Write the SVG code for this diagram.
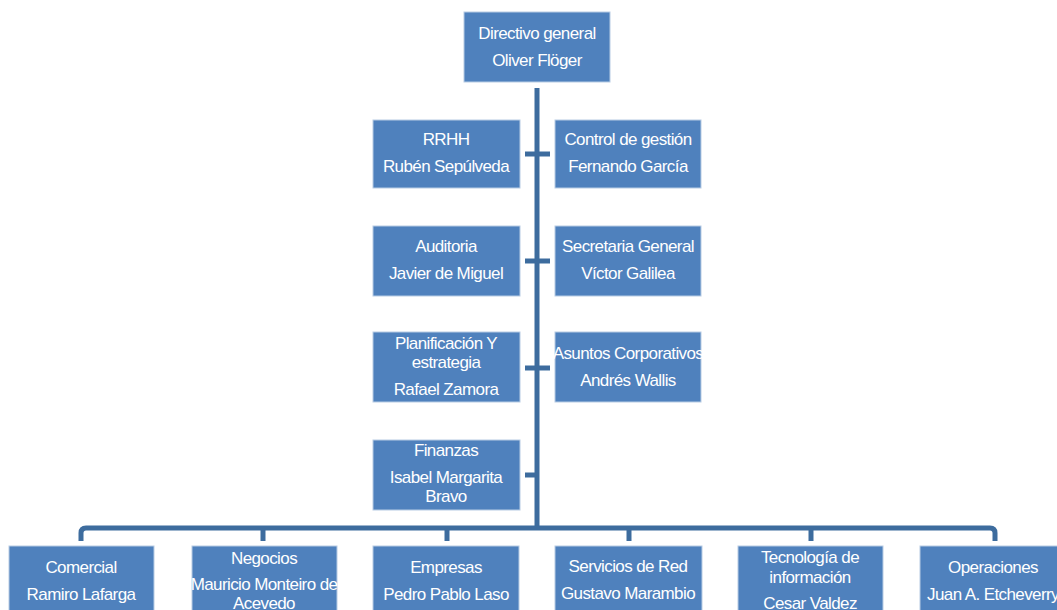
<svg xmlns="http://www.w3.org/2000/svg" width="1057" height="610" viewBox="0 0 1057 610">
<style>
.box{fill:#4F81BD;stroke:#B8CCE4;stroke-width:1}
.t{font-family:"Liberation Sans",Arial,sans-serif;font-size:17px;letter-spacing:-0.6px;fill:#FFFFFF;text-anchor:middle}
.c{fill:none;stroke:#3D6C9E;stroke-width:5;stroke-linejoin:round}
</style>
<rect width="1057" height="610" fill="#FFFFFF"/>
<g id="connectors">
<path class="c" d="M537,88 V528"/>
<path class="c" d="M525,154 H550"/>
<path class="c" d="M525,261 H550"/>
<path class="c" d="M525,368 H550"/>
<path class="c" d="M525,475 H537"/>
<path class="c" d="M81,541 V533 Q81,528 86,528 H990 Q995,528 995,533 V541"/>
<path class="c" d="M263,528 V541"/>
<path class="c" d="M447,528 V541"/>
<path class="c" d="M629,528 V541"/>
<path class="c" d="M811,528 V541"/>
</g>
<g id="n-directivo"><rect class="box" x="464" y="12" width="146" height="70"/>
<text class="t" x="537" y="39">Directivo general</text><text class="t" x="537" y="66">Oliver Flöger</text></g>
<g id="n-rrhh"><rect class="box" x="373" y="120" width="147" height="68"/>
<text class="t" x="446" y="145">RRHH</text><text class="t" x="446" y="172">Rubén Sepúlveda</text></g>
<g id="n-control"><rect class="box" x="555" y="120" width="146" height="68"/>
<text class="t" x="628" y="145">Control de gestión</text><text class="t" x="628" y="172">Fernando García</text></g>
<g id="n-auditoria"><rect class="box" x="373" y="226" width="147" height="70"/>
<text class="t" x="446" y="252">Auditoria</text><text class="t" x="446" y="279">Javier de Miguel</text></g>
<g id="n-secretaria"><rect class="box" x="555" y="226" width="146" height="70"/>
<text class="t" x="628" y="252">Secretaria General</text><text class="t" x="628" y="279">Víctor Galilea</text></g>
<g id="n-planificacion"><rect class="box" x="373" y="332" width="147" height="70"/>
<text class="t" x="446" y="349">Planificación Y</text><text class="t" x="446" y="368">estrategia</text><text class="t" x="446" y="395">Rafael Zamora</text></g>
<g id="n-asuntos"><rect class="box" x="555" y="332" width="146" height="70"/>
<text class="t" x="628" y="359">Asuntos Corporativos</text><text class="t" x="628" y="386">Andrés Wallis</text></g>
<g id="n-finanzas"><rect class="box" x="373" y="440" width="147" height="70"/>
<text class="t" x="446" y="456">Finanzas</text><text class="t" x="446" y="483">Isabel Margarita</text><text class="t" x="446" y="502">Bravo</text></g>
<g id="n-comercial"><rect class="box" x="9" y="546" width="145" height="70"/>
<text class="t" x="81" y="573">Comercial</text><text class="t" x="81" y="600">Ramiro Lafarga</text></g>
<g id="n-negocios"><rect class="box" x="192" y="546" width="145" height="70"/>
<text class="t" x="264" y="564">Negocios</text><text class="t" x="264" y="590">Mauricio Monteiro de</text><text class="t" x="264" y="609">Acevedo</text></g>
<g id="n-empresas"><rect class="box" x="373" y="546" width="146" height="70"/>
<text class="t" x="446" y="573">Empresas</text><text class="t" x="446" y="600">Pedro Pablo Laso</text></g>
<g id="n-servicios"><rect class="box" x="555" y="546" width="147" height="70"/>
<text class="t" x="628" y="572">Servicios de Red</text><text class="t" x="628" y="599">Gustavo Marambio</text></g>
<g id="n-tecnologia"><rect class="box" x="738" y="546" width="145" height="70"/>
<text class="t" x="810" y="563">Tecnología de</text><text class="t" x="810" y="583">información</text><text class="t" x="810" y="609">Cesar Valdez</text></g>
<g id="n-operaciones"><rect class="box" x="920" y="546" width="146" height="70"/>
<text class="t" x="993" y="573">Operaciones</text><text class="t" x="993" y="600">Juan A. Etcheverry</text></g>
</svg>
